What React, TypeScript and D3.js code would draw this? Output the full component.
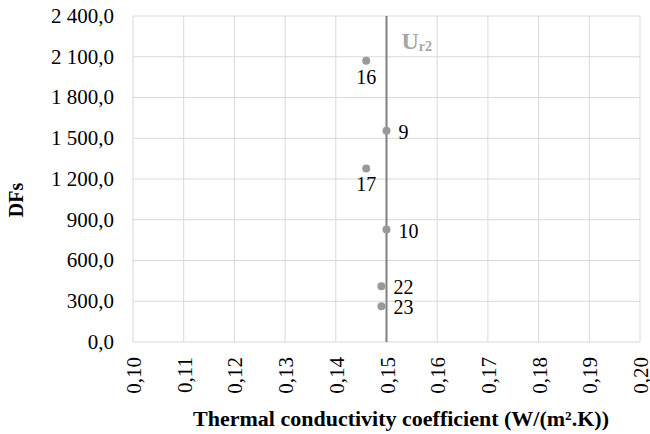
import React from "react";
import * as d3 from "d3";

const pointIds = ["16", "9", "17", "10", "22", "23"];
const xValues = [0.146, 0.15, 0.146, 0.15, 0.149, 0.149];
const yValues = [2070, 1555, 1278, 828, 410, 263];
const labelSide = ["below", "right", "below", "right", "right", "right"];
const refX = 0.15;
const refLabel = "U";
const refSub = "r2";
const xTicks = [0.1, 0.11, 0.12, 0.13, 0.14, 0.15, 0.16, 0.17, 0.18, 0.19, 0.2];
const yTicks = [0, 300, 600, 900, 1200, 1500, 1800, 2100, 2400];
const xTitle = "Thermal conductivity coefficient (W/(m².K))";
const yTitle = "DFs";

const W = 650;
const H = 434;
const M = { left: 133, right: 10, top: 16, bottom: 92 };
const FONT = "Liberation Serif, serif";

const locale = d3.formatLocale({ decimal: ",", thousands: " ", grouping: [3], currency: ["", ""] });
const fmtY = locale.format(",.1f");
const fmtX = locale.format(".2f");

export default function App() {
  const x = d3.scaleLinear().domain([0.1, 0.2]).range([M.left, W - M.right]);
  const y = d3.scaleLinear().domain([0, 2400]).range([H - M.bottom, M.top]);
  const grid = "#d9d9d9";
  const ts = { fontFamily: FONT };
  return (
    <svg width={W} height={H} style={{ position: "absolute", left: 0, top: 0, background: "#fff", fontFamily: FONT }}>
      {yTicks.map((t) => (
        <line key={"gy" + t} x1={x(0.1)} x2={x(0.2)} y1={y(t)} y2={y(t)} stroke={grid} strokeWidth={1} />
      ))}
      {xTicks.map((t) => (
        <line key={"gx" + t} x1={x(t)} x2={x(t)} y1={y(0)} y2={y(2400)} stroke={grid} strokeWidth={1} />
      ))}
      {yTicks.map((t) => (
        <text key={"ty" + t} style={ts} x={x(0.1) - 19} y={y(t)} dy="0.33em" textAnchor="end" fontSize={21} fill="#000">
          {fmtY(t)}
        </text>
      ))}
      {xTicks.map((t) => (
        <text
          key={"tx" + t}
          style={ts}
          transform={`translate(${x(t) + 8},${y(0) + 15}) rotate(-90)`}
          textAnchor="end"
          fontSize={21}
          fill="#000"
        >
          {fmtX(t)}
        </text>
      ))}
      <line x1={x(refX)} x2={x(refX)} y1={y(0)} y2={y(2400)} stroke="#808080" strokeWidth={2} />
      <text style={ts} x={x(refX) + 15} y={y(2400) + 33} fontSize={24} fontWeight="bold" fill="#a6a6a6">
        {refLabel}
        <tspan fontSize={14} dy={2}>{refSub}</tspan>
      </text>
      {xValues.map((v, i) => (
        <circle key={"p" + i} cx={x(v)} cy={y(yValues[i])} r={4} fill="#999999" />
      ))}
      {xValues.map((v, i) =>
        labelSide[i] === "below" ? (
          <text key={"l" + i} style={ts} x={x(v)} y={y(yValues[i]) + 23} textAnchor="middle" fontSize={20} fill="#000">
            {pointIds[i]}
          </text>
        ) : (
          <text key={"l" + i} style={ts} x={x(v) + 12} y={y(yValues[i]) + 1} dy="0.35em" textAnchor="start" fontSize={20} fill="#000">
            {pointIds[i]}
          </text>
        )
      )}
      <text style={ts} x={401} y={426} textAnchor="middle" fontSize={22} fontWeight="bold" fill="#000">
        {xTitle}
      </text>
      <text style={ts} transform={`translate(23,200) rotate(-90)`} textAnchor="middle" fontSize={20} fontWeight="bold" fill="#000">
        {yTitle}
      </text>
    </svg>
  );
}
